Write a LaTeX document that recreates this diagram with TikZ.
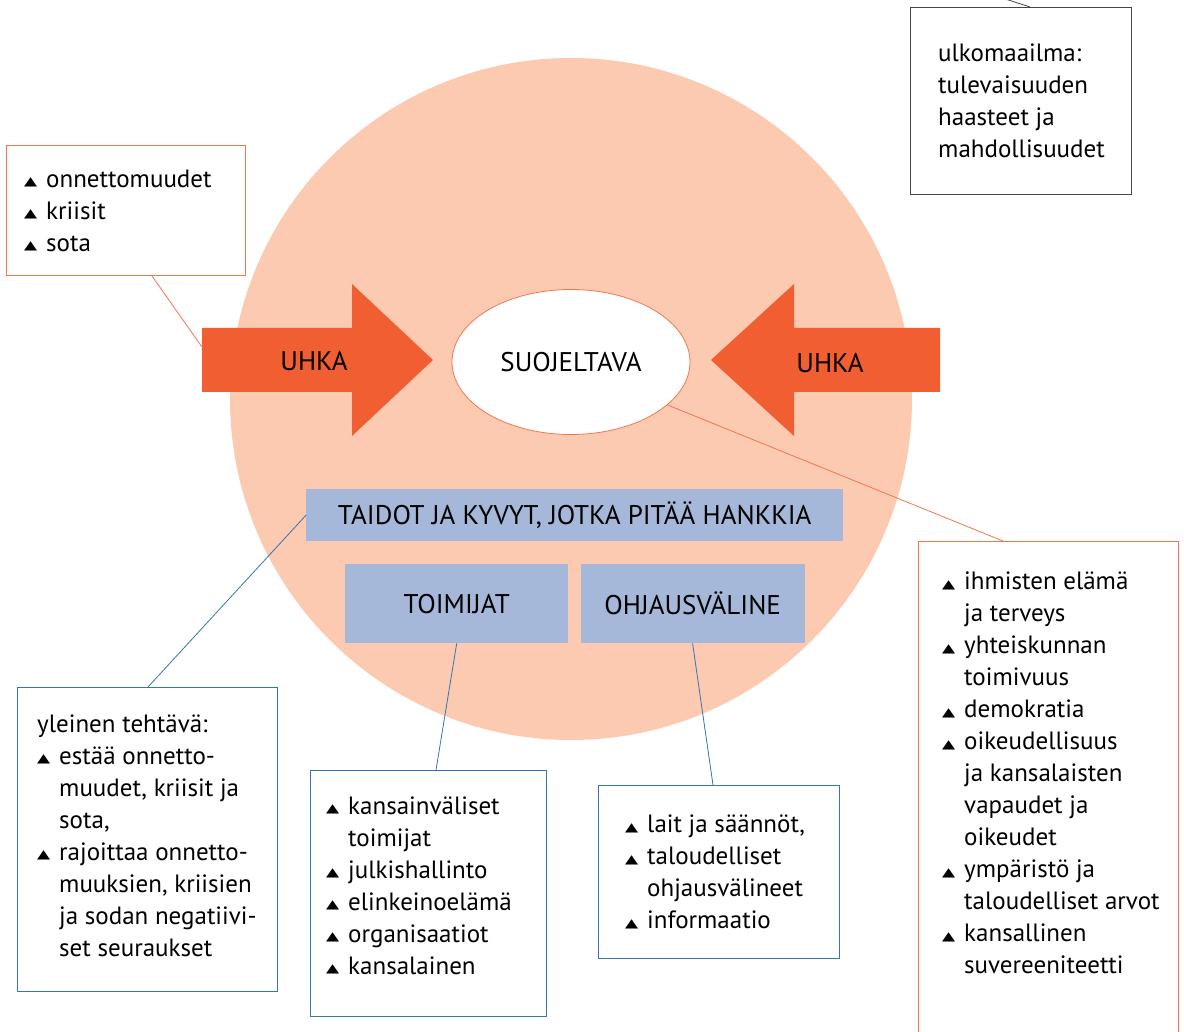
\documentclass[tikz,border=0pt]{standalone}
\usepackage{fontspec}
\setmainfont{PT Sans}
\newfontfamily\symfont{DejaVu Sans}
\usetikzlibrary{positioning,shapes.geometric}

\definecolor{discfill}{RGB}{251,202,176}
\definecolor{threatred}{RGB}{241,94,50}
\definecolor{edgeorange}{RGB}{242,118,82}
\definecolor{skillblue}{RGB}{166,184,217}
\definecolor{edgeblue}{RGB}{50,118,180}
\definecolor{edgegray}{RGB}{70,70,70}

\newcommand{\tri}{\makebox[22pt][l]{\raisebox{1.5pt}{\scalebox{1}[0.72]{\symfont\fontsize{17}{17}\selectfont ▲}}}}
\newcommand{\ind}{\hspace*{22pt}}

\begin{document}
\begin{tikzpicture}[x=1pt, y=-1pt,
  every node/.style={font=\fontsize{25}{32}\selectfont, inner sep=0pt},
  caps/.style={font=\fontsize{27}{32}\selectfont},
  obox/.style={draw=edgeorange, line width=1pt, fill=white, anchor=north west},
  bbox/.style={draw=edgeblue, line width=1pt, fill=white, anchor=north west},
  gbox/.style={draw=edgegray, line width=1pt, fill=white, anchor=north west},
  skill/.style={caps, fill=skillblue, anchor=north west},
  items/.style={align=left},
  olink/.style={draw=edgeorange, line width=0.8pt},
  blink/.style={draw=edgeblue, line width=0.8pt},
  glink/.style={draw=edgegray, line width=0.8pt}]
\fill[white] (0,0) rectangle (1184,1032);
\useasboundingbox (0,0) rectangle (1184,1032);

% the protected sphere
\node[circle, fill=discfill, minimum size=682pt] (sphere) at (571,399) {};

% threats from both sides
\fill[threatred] (202,328) -- (352,328) -- (352,284) -- (433,360) -- (352,436) -- (352,392) -- (202,392) -- cycle;
\fill[threatred] (940,328) -- (794,328) -- (794,284) -- (711,360) -- (794,436) -- (794,392) -- (940,392) -- cycle;
\coordinate (shaftL) at (202,347);
\node[caps] (uhkaL) at (314,361) {UHKA};
\node[caps] (uhkaR) at (830,363) {UHKA};
\node[caps, ellipse, draw=edgeorange, line width=0.8pt, fill=white, minimum width=238pt, minimum height=145pt] (suoj) at (571,362) {SUOJELTAVA};

% skills
\node[skill, minimum width=537pt, minimum height=52pt] (taidot) at (306,489) {TAIDOT JA KYVYT, JOTKA PITÄÄ HANKKIA};
\node[skill, minimum width=223pt, minimum height=79pt] (toim) at (345,564) {TOIMIJAT};
\node[skill, minimum width=224pt, minimum height=79pt, right=12pt of toim] (ohj) {OHJAUSVÄLINE};

% callouts
\node[obox, minimum width=239pt, minimum height=130pt] (uhat) at (6,145) {};
\node[items, right=18pt of uhat.west] (uhatt) {\tri onnettomuudet\\ \tri kriisit\\ \tri sota};

\node[gbox, minimum width=221pt, minimum height=187pt] (ulko) at (910,7) {};
\node[items, right=28pt of ulko.west] (ulkot) {ulkomaailma:\\ tulevaisuuden\\ haasteet ja\\ mahdollisuudet};
\coordinate (ulkoend) at (990,-6);

\node[bbox, minimum width=260pt, minimum height=304pt] (yleinen) at (17,687) {};
\node[items, right=20pt of yleinen.west, yshift=4pt] (yleinent) {yleinen tehtävä:\\ \tri estää onnetto-\\ \ind muudet, kriisit ja\\ \ind sota,\\ \tri rajoittaa onnetto-\\ \ind muuksien, kriisien\\ \ind ja sodan negatiivi-\\ \ind set seuraukset};

\node[bbox, minimum width=236pt, minimum height=246pt] (toimlist) at (310,770) {};
\node[items, right=16pt of toimlist.west, yshift=8pt] (toimlistt) {\tri kansainväliset\\ \ind toimijat\\ \tri julkishallinto\\ \tri elinkeinoelämä\\ \tri organisaatiot\\ \tri kansalainen};

\node[bbox, minimum width=241pt, minimum height=173pt] (ohjlist) at (598,785) {};
\node[items, right=27pt of ohjlist.west] (ohjlistt) {\tri lait ja säännöt,\\ \tri taloudelliset\\ \ind ohjausvälineet\\ \tri informaatio};

\node[obox, minimum width=260pt, minimum height=520pt] (arvot) at (918,541) {};
\node[items, anchor=north west] (arvott) at ([xshift=24pt, yshift=-31pt]arvot.north west) {\tri ihmisten elämä\\ \ind ja terveys\\ \tri yhteiskunnan\\ \ind toimivuus\\ \tri demokratia\\ \tri oikeudellisuus\\ \ind ja kansalaisten\\ \ind vapaudet ja\\ \ind oikeudet\\ \tri ympäristö ja\\ \ind taloudelliset arvot\\ \tri kansallinen\\ \ind suvereeniteetti};

% connectors
\draw[olink] ([xshift=146pt]uhat.south west) -- (shaftL);
\draw[olink] (suoj.-24) -- ([xshift=85pt]arvot.north west);
\draw[glink] ([xshift=120pt]ulko.north west) -- (ulkoend);
\draw[blink] ([xshift=131pt]yleinen.north west) -- (taidot.west);
\draw[blink] (toim.south) -- ([xshift=126pt]toimlist.north west);
\draw[blink] (ohj.south) -- ([xshift=115pt]ohjlist.north west);
\end{tikzpicture}
\end{document}
